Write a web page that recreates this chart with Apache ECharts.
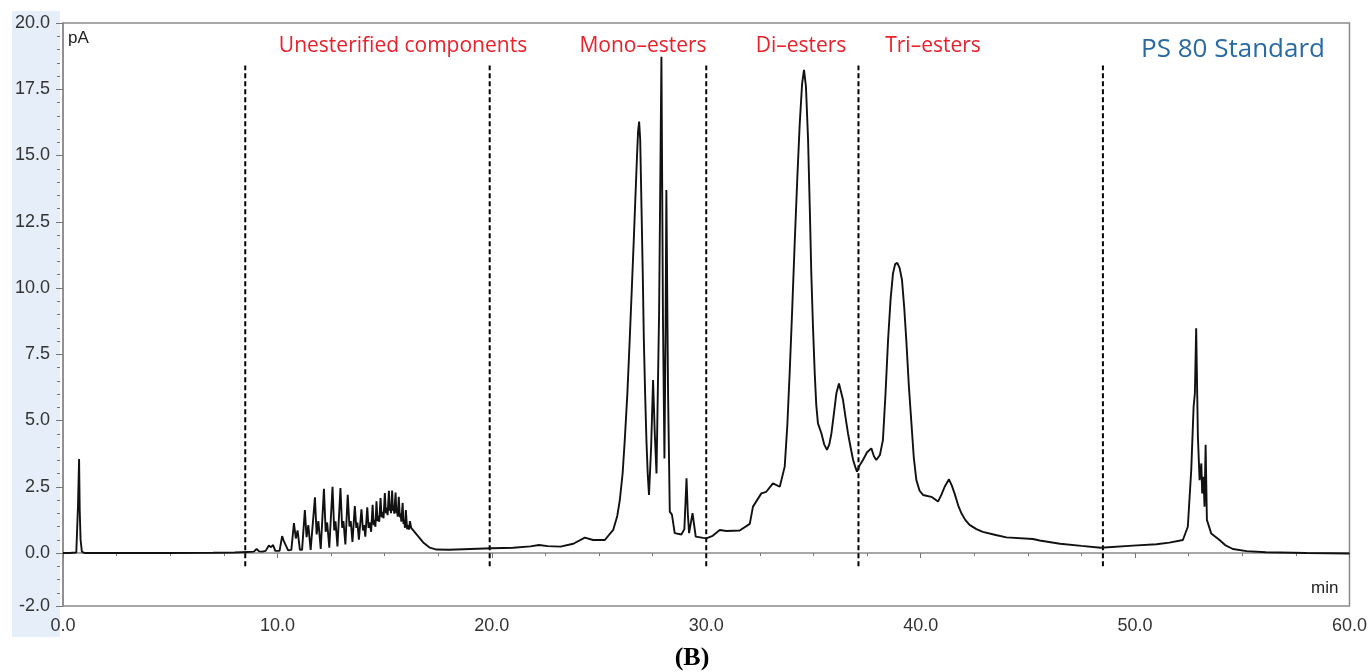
<!DOCTYPE html>
<html>
<head>
<meta charset="utf-8">
<script src="https://cdn.jsdelivr.net/npm/echarts@6/dist/echarts.min.js"></script>
<style>
html,body{margin:0;padding:0;background:#fff;}
#chart{width:1370px;height:672px;}
</style>
</head>
<body>
<div id="chart"></div>
<script>
// ---- data (retention time in min, signal in pA) ----
const injectionPeak = [
  [0,0],[0.3,0],[0.62,0.02],[0.7,1.8],[0.75,3.55],[0.78,1.6],[0.82,0.5],[0.88,0.05],[1.0,0],
  [3,0],[5,0],[7,0.01],[8.0,0.02]
];
const unesterified = [
  [8.6,0.04],[8.9,0.05],[9.03,0.15],[9.15,0.06],[9.3,0.05],[9.45,0.08],[9.6,0.28],[9.7,0.22],[9.8,0.3],[9.9,0.08],
  [10.1,0.08],[10.22,0.64],[10.3,0.45],[10.38,0.52],[10.5,0.1],[10.65,0.12],[10.77,1.13],[10.86,0.55],[10.94,0.85],
  [11.05,0.12],[11.15,0.12],[11.28,1.62],[11.36,0.6],[11.44,1.05],[11.55,0.12],[11.63,0.13],[11.75,2.1],[11.83,0.7],
  [11.91,1.2],[12.02,0.15],[12.08,0.17],[12.17,2.42],[12.25,0.8],[12.32,1.15],[12.42,0.2],[12.48,0.22],[12.57,2.5],
  [12.65,0.85],[12.71,1.2],[12.8,0.25],[12.85,0.27],[12.94,2.45],[13.02,0.95],[13.08,1.2],[13.17,0.32],[13.2,0.35],
  [13.28,2.2],[13.36,1.0],[13.42,1.2],[13.5,0.42],[13.53,0.45],[13.61,1.77],[13.68,0.95],[13.73,1.15],[13.8,0.5],
  [13.85,0.55],[13.92,1.65],[13.99,0.85],[14.04,1.05],[14.1,0.62],[14.19,1.72],[14.25,0.95],[14.3,1.15],[14.37,0.8],
  [14.44,1.82],[14.49,1.05],[14.53,1.25],[14.57,0.99],[14.62,1.95],[14.67,1.2],[14.7,1.4],[14.75,1.18],[14.81,2.07],
  [14.86,1.35],[14.9,1.55],[14.95,1.31],[15.01,2.26],[15.06,1.5],[15.1,1.7],[15.14,1.43],[15.2,2.35],[15.24,1.6],
  [15.27,1.75],[15.3,1.5],[15.35,2.36],[15.39,1.6],[15.42,1.75],[15.45,1.48],[15.51,2.28],[15.55,1.5],[15.58,1.65],
  [15.61,1.37],[15.66,2.12],[15.71,1.35],[15.74,1.5],[15.78,1.18],[15.84,1.89],[15.88,1.1],[15.91,1.25],[15.95,0.95],
  [15.99,1.62],[16.05,0.9],[16.1,1.05],[16.14,0.88],[16.18,1.2],[16.24,0.95],[16.3,0.9],[16.49,0.7],[16.8,0.4],
  [17.11,0.2],[17.42,0.13],[18,0.12],[19,0.15],[20,0.18],[21,0.2],[21.8,0.25],[22.2,0.3],[22.6,0.26],[23.2,0.24],[23.8,0.35]
];
const monoEsters = [
  [24.34,0.58],[24.72,0.49],[25.27,0.49],[25.66,0.87],[25.85,1.4],[25.97,2.0],[26.1,3.0],[26.2,4.26],[26.32,6.0],
  [26.43,8.04],[26.53,10.0],[26.62,11.8],[26.7,13.5],[26.77,14.95],[26.82,15.9],[26.87,16.28],[26.92,15.6],[26.98,13.07],
  [27.04,10.5],[27.09,8.04],[27.15,6.0],[27.21,4.26],[27.27,3.0],[27.33,2.19],[27.43,4.0],[27.52,6.53],
  [27.6,4.5],[27.68,3.0],[27.8,9.0],[27.91,18.73],[27.98,9.0],[28.05,3.57],[28.1,8.0],[28.14,13.7],[28.22,6.0],
  [28.30,1.56],[28.4,1.45],[28.53,0.75],[28.84,0.7],[28.98,0.9],[29.08,2.82],[29.14,1.5],[29.2,0.75],[29.36,1.5],
  [29.51,0.62],[29.85,0.57],[30.0,0.55],[30.3,0.65],[30.63,0.87],[30.94,0.83],[31.56,0.85],[32.03,1.1]
];
const diTriEsters = [
  [32.18,1.75],[32.57,2.25],[32.8,2.31],[33.11,2.63],[33.43,2.5],[33.66,3.26],[33.78,4.8],[33.89,6.78],[34.0,9.0],
  [34.13,11.8],[34.25,14.2],[34.36,16.2],[34.47,17.7],[34.56,18.23],[34.65,17.6],[34.75,15.58],[34.83,13.0],[34.9,10.55],
  [34.98,8.5],[35.06,6.78],[35.13,5.6],[35.21,4.89],[35.37,4.52],[35.5,4.1],[35.63,3.89],[35.74,4.1],[35.84,4.52],
  [35.96,5.3],[36.07,6.03],[36.19,6.40],[36.28,6.1],[36.38,5.77],[36.5,5.1],[36.61,4.52],[36.73,4.0],[36.85,3.51],
  [36.95,3.25],[37.03,3.07],[37.15,3.3],[37.31,3.51],[37.5,3.8],[37.70,3.95],[37.82,3.65],[37.93,3.51],[38.1,3.7],
  [38.24,4.26],[38.36,6.0],[38.48,8.04],[38.6,9.6],[38.71,10.55],[38.81,10.9],[38.91,10.95],[39.02,10.75],[39.13,10.3],
  [39.23,9.3],[39.33,8.04],[39.45,6.3],[39.57,4.89],[39.68,3.6],[39.80,2.75],[39.95,2.35],[40.11,2.19],[40.5,2.12],
  [40.81,1.94],[40.97,2.2],[41.12,2.5],[41.32,2.78],[41.45,2.55],[41.58,2.25],[41.75,1.8],[41.9,1.5],[42.08,1.25],
  [42.28,1.06],[42.6,0.9],[42.9,0.8],[43.5,0.68],[44.0,0.59],[45.24,0.53],[45.55,0.47],[46.5,0.35],[47.5,0.27],[48.4,0.2]
];
const latePeak = [
  [49.9,0.28],[51.0,0.33],[51.6,0.39],[52.23,0.49],[52.46,0.99],[52.62,3.13],[52.73,5.52],[52.79,6.03],[52.85,8.48],
  [52.93,4.39],[53.01,2.75],[53.09,3.38],[53.13,2.25],[53.19,2.88],[53.24,1.75],[53.29,4.08],[53.35,1.25],[53.55,0.74],
  [53.94,0.49],[54.2,0.3],[54.56,0.15],[55.2,0.07],[56.1,0.03],[58,0.0],[60,-0.02]
];
const dividerTimes = [8.5, 19.9, 30.0, 37.1, 48.5];
const dividerSpan = [-0.5, 18.4];
const yMajorTicks = [-2, 0, 2.5, 5, 7.5, 10, 12.5, 15, 17.5, 20];
const yMinorTicks = [-2,-1.5,-1,-0.5,0,0.5,1,1.5,2,2.5,3,3.5,4,4.5,5,5.5,6,6.5,7,7.5,8,8.5,9,9.5,10,10.5,11,11.5,12,12.5,13,13.5,14,14.5,15,15.5,16,16.5,17,17.5,18,18.5,19,19.5,20];
const regionLabels = ['Unesterified components', 'Mono–esters', 'Di–esters', 'Tri–esters'];

const trace = [].concat(injectionPeak, unesterified, monoEsters, diTriEsters, latePeak);

const chart = echarts.init(document.getElementById('chart'), null, {renderer: 'canvas'});

const dividerSeries = dividerTimes.map(t => ({
  type: 'line',
  data: [[t, dividerSpan[0]], [t, dividerSpan[1]]],
  symbol: 'none',
  silent: true,
  lineStyle: {color: '#000', width: 2, type: [5, 3]},
  z: 3
}));

const labelX = [403, 643, 801, 933];
const redFont = '21px Open Sans, sans-serif';
const axisFont = {fontFamily: 'Liberation Sans, Arial, sans-serif', fontSize: 18, color: '#333'};

chart.setOption({
  animation: false,
  backgroundColor: '#fff',
  grid: {left: 63, right: 20, top: 23, bottom: 66, show: true, borderColor: '#8a8a8a', borderWidth: 1.5, backgroundColor: 'transparent'},
  xAxis: {
    type: 'value', min: 0, max: 60, interval: 10, offset: 3,
    axisLine: {show: true, lineStyle: {color: '#8a8a8a', width: 1.5}},
    axisTick: {show: true, length: 5, lineStyle: {color: '#777'}},
    minorTick: {show: true, splitNumber: 4, length: 3, lineStyle: {color: '#777'}},
    splitLine: {show: false},
    axisLabel: Object.assign({margin: 8, formatter: v => v.toFixed(1)}, axisFont)
  },
  yAxis: [{
    type: 'value', min: -2, max: 20, offset: 3,
    axisLine: {show: true, lineStyle: {color: '#8a8a8a', width: 1.5}},
    axisTick: {show: true, length: 7, customValues: yMajorTicks, lineStyle: {color: '#777'}},
    splitLine: {show: false},
    axisLabel: Object.assign({margin: 10, customValues: yMajorTicks, formatter: v => v.toFixed(1)}, axisFont)
  }, {
    type: 'value', min: -2, max: 20, offset: 3, position: 'left',
    axisLine: {show: false},
    axisTick: {show: true, length: 3, customValues: yMinorTicks, lineStyle: {color: '#777'}},
    splitLine: {show: false},
    axisLabel: {show: false}
  }],
  graphic: [
    {type: 'rect', z: -10, silent: true, shape: {x: 12, y: 11, width: 48, height: 626}, style: {fill: '#e6eef9'}},
    {type: 'text', left: 68, top: 30, style: {text: 'pA', font: '17px Liberation Sans, Arial, sans-serif', fill: '#222'}},
    {type: 'text', left: 1311, top: 580, style: {text: 'min', font: '17px Liberation Sans, Arial, sans-serif', fill: '#222'}},
    {type: 'text', x: labelX[0], y: 46, style: {text: regionLabels[0], font: redFont, fill: '#e8212b', textAlign: 'center', textVerticalAlign: 'middle'}},
    {type: 'text', x: labelX[1], y: 46, style: {text: regionLabels[1], font: redFont, fill: '#e8212b', textAlign: 'center', textVerticalAlign: 'middle'}},
    {type: 'text', x: labelX[2], y: 46, style: {text: regionLabels[2], font: redFont, fill: '#e8212b', textAlign: 'center', textVerticalAlign: 'middle'}},
    {type: 'text', x: labelX[3], y: 46, style: {text: regionLabels[3], font: redFont, fill: '#e8212b', textAlign: 'center', textVerticalAlign: 'middle'}},
    {type: 'text', x: 1233, y: 50, style: {text: 'PS 80 Standard', font: '26px Open Sans, sans-serif', fill: '#2a6aa3', textAlign: 'center', textVerticalAlign: 'middle'}},
    {type: 'text', x: 692, y: 658, style: {text: '(B)', font: 'bold 26px Liberation Serif, Times New Roman, serif', fill: '#000', textAlign: 'center', textVerticalAlign: 'middle'}}
  ],
  series: [{
    type: 'line',
    data: trace,
    symbol: 'none',
    smooth: false,
    silent: true,
    lineStyle: {color: '#111', width: 1.9},
    z: 4
  }].concat(dividerSeries)
});
</script>
</body>
</html>
